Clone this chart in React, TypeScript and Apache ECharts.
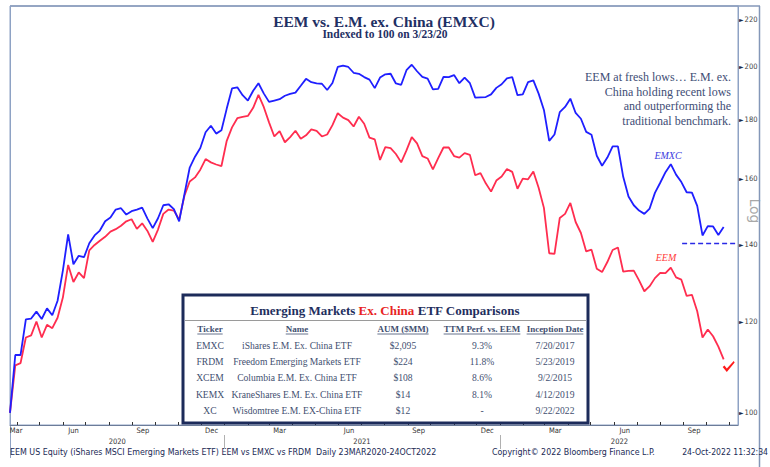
import React, { useEffect, useRef } from "react";
import * as echarts from "echarts";

// ---- data (weekly samples, indexed to 100 on 3/23/20) ----
const startDate = "2020-03-23";
const endAxisDate = "2022-11-12";
const emxcValues = [
  100, 112.3, 112.3, 120.6, 120.8, 122.5, 120.7, 123.3, 121.6, 125.2,
  133.0, 143.0, 134.7, 137.0, 136.6, 140.5, 142.7, 144.1, 146.8, 147.9,
  150.3, 150.7, 148.8, 149.8, 150.3, 150.9, 147.6, 144.8, 147.7, 151.6,
  151.9, 150.4, 146.8, 155.0, 163.5, 167.1, 170.0, 175.5, 177.8, 175.0,
  176.2, 184.0, 191.6, 192.0, 189.0, 187.0, 190.7, 193.6, 189.7, 186.5,
  187.0, 187.5, 188.8, 189.5, 190.0, 192.6, 195.3, 194.0, 193.5, 193.4,
  191.0, 193.7, 200.0, 200.5, 200.0, 197.7, 197.3, 196.0, 195.0, 191.7,
  195.8, 197.1, 197.3, 193.5, 193.0, 198.7, 200.9, 198.3, 196.1, 195.4,
  191.2, 191.4, 196.1, 196.0, 196.8, 193.6, 195.8, 193.6, 188.1, 188.2,
  188.3, 189.3, 191.8, 193.2, 195.5, 196.0, 189.0, 189.3, 194.0, 194.7,
  189.6, 183.5, 172.5, 174.7, 182.7, 184.6, 187.7, 182.4, 180.3, 175.6,
  174.6, 167.4, 164.1, 166.8, 170.6, 170.6, 160.5, 154.3, 151.6, 150.0,
  149.0, 150.6, 155.4, 158.6, 162.0, 164.6, 161.2, 158.8, 155.6, 155.5,
  151.4, 142.7, 145.4, 145.3, 142.8, 145.1,
];
const eemValues = [
  100, 110.0, 110.5, 116.3, 116.8, 120.1, 116.3, 119.3, 118.5, 121.0,
  126.0, 134.5, 130.0, 132.5, 131.0, 138.5, 140.0, 141.2, 142.3, 143.8,
  144.5, 145.5, 146.8, 147.4, 144.6, 146.2, 144.0, 140.9, 144.4, 149.0,
  150.3, 150.0, 147.3, 154.5, 159.0, 160.3, 162.8, 166.3, 165.2, 164.5,
  164.0, 172.5, 177.2, 180.5, 181.0, 181.3, 184.3, 189.1, 184.6, 179.0,
  174.0, 175.9, 172.0, 173.8, 176.0, 173.2, 174.4, 176.5, 176.0, 174.0,
  174.7, 178.0, 182.3, 180.7, 179.8, 177.5, 181.0, 178.5, 173.6, 173.0,
  166.0, 170.3, 170.0, 168.0, 165.2, 169.2, 173.8, 171.6, 167.3, 166.5,
  162.9, 166.6, 170.2, 170.2, 167.3, 166.8, 168.3, 167.7, 161.0, 161.7,
  158.4, 155.8, 159.3, 160.6, 163.0, 162.1, 156.7, 159.9, 159.7, 162.2,
  157.0, 150.8, 137.7, 137.5, 147.8, 149.0, 152.3, 146.6, 143.4, 138.2,
  138.7, 133.5, 132.6, 135.3, 138.6, 139.3, 132.7, 132.9, 133.0, 130.4,
  127.6, 128.9, 131.0, 132.4, 132.3, 133.8, 131.2, 130.6, 126.4, 126.7,
  122.6, 116.3, 118.2, 116.6, 114.2, 111.3,
];
const yTickValues = [100, 120, 140, 160, 180, 200, 220];
const monthLabelDates = [
  "2020-03-31", "2020-06-15", "2020-09-15", "2020-12-15",
  "2021-03-15", "2021-06-15", "2021-09-15", "2021-12-15",
  "2022-03-15", "2022-06-15", "2022-09-15",
];
const yearLabelDates = ["2020-08-12", "2021-07-02", "2022-06-08"];
const yearBreakDates = ["2021-01-01", "2022-01-01"];
const supportLevel = 140.6;
const supportStart = "2022-08-30";

// table
const tableTickers = ["EMXC", "FRDM", "XCEM", "KEMX", "XC"];
const tableNames = [
  "iShares E.M. Ex. China ETF",
  "Freedom Emerging Markets ETF",
  "Columbia E.M. Ex. China ETF",
  "KraneShares E.M. Ex. China ETF",
  "Wisdomtree E.M. EX-China ETF",
];
const tableAum = ["$2,095", "$224", "$108", "$14", "$12"];
const tableTtm = ["9.3%", "11.8%", "8.6%", "8.1%", "-"];
const tableInception = ["7/20/2017", "5/23/2019", "9/2/2015", "4/12/2019", "9/22/2022"];
const tableHeaders = ["Ticker", "Name", "AUM ($MM)", "TTM Perf. vs. EEM", "Inception Date"];

const MONTHS = ["Jan", "Feb", "Mar", "Apr", "May", "Jun", "Jul", "Aug", "Sep", "Oct", "Nov", "Dec"];

function toTime(s: string) {
  const [y, m, d] = s.split("-").map(Number);
  return new Date(y, m - 1, d).getTime();
}

function measure(text: string, font: string) {
  const c = document.createElement("canvas").getContext("2d");
  if (!c) return text.length * 5;
  c.font = font;
  return c.measureText(text).width;
}

const SERIF = "'Liberation Serif', 'Times New Roman', serif";
const COND = "'DejaVu Sans Condensed', 'DejaVu Sans', sans-serif";

export default function App() {
  const ref = useRef<HTMLDivElement>(null);

  useEffect(() => {
    if (!ref.current) return;
    const chart = echarts.init(ref.current, undefined, { renderer: "svg" });

    const [sy, sm, sd] = startDate.split("-").map(Number);
    const weekTime = (i: number) => new Date(sy, sm - 1, sd + 7 * i).getTime();
    const xMin = toTime(startDate);
    const xMax = toTime(endAxisDate);
    const emxcData = emxcValues.map((v, i) => [weekTime(i), v]);
    const eemData = eemValues.map((v, i) => [weekTime(i), v]);
    const lastEem = eemData[eemData.length - 1];

    const monthTicks: number[] = [];
    for (let k = 0; k < 40; k++) {
      const t = new Date(2020, 3 + k, 1).getTime();
      if (t > xMax) break;
      monthTicks.push(t);
    }

    // table graphics
    const colX = [210, 297, 403, 482, 555];
    const headerY = 329;
    const rowY0 = 345;
    const rowStep = 16.4;
    const tableColor = "#3f4f70";
    const headerFont = `bold 9px ${SERIF}`;
    const graphics: any[] = [];

    graphics.push({
      type: "rect",
      shape: { x: 183, y: 295, width: 405, height: 128 },
      style: { fill: "#ffffff", stroke: "#1c2b5a", lineWidth: 3 },
      z: 10,
    });
    graphics.push({
      type: "line",
      shape: { x1: 185, y1: 320.5, x2: 586, y2: 320.5 },
      style: { stroke: "#9a9a9a", lineWidth: 1 },
      z: 11,
    });
    graphics.push({
      type: "text",
      x: 385,
      y: 310,
      z: 11,
      style: {
        text: "{a|Emerging Markets }{b|Ex. China}{a| ETF Comparisons}",
        align: "center",
        verticalAlign: "middle",
        rich: {
          a: { fontFamily: SERIF, fontWeight: "bold", fontSize: 13, fill: "#1f2f5e" },
          b: { fontFamily: SERIF, fontWeight: "bold", fontSize: 13, fill: "#e8251f" },
        },
      },
    });
    tableHeaders.forEach((h, c) => {
      const w = measure(h, headerFont);
      graphics.push({
        type: "text",
        x: colX[c],
        y: headerY,
        z: 11,
        style: {
          text: h,
          align: "center",
          verticalAlign: "middle",
          fontFamily: SERIF,
          fontWeight: "bold",
          fontSize: 9,
          fill: tableColor,
        },
      });
      graphics.push({
        type: "line",
        shape: { x1: colX[c] - w / 2, y1: headerY + 5, x2: colX[c] + w / 2, y2: headerY + 5 },
        style: { stroke: tableColor, lineWidth: 0.8 },
        z: 11,
      });
    });
    const cols = [tableTickers, tableNames, tableAum, tableTtm, tableInception];
    cols.forEach((col, c) => {
      col.forEach((txt, r) => {
        graphics.push({
          type: "text",
          x: colX[c],
          y: rowY0 + r * rowStep,
          z: 11,
          style: {
            text: txt,
            align: "center",
            verticalAlign: "middle",
            fontFamily: SERIF,
            fontSize: 9.6,
            fill: tableColor,
          },
        });
      });
    });

    // titles, annotation, frame
    graphics.push(
      {
        type: "text",
        x: 384,
        y: 21,
        style: {
          text: "EEM vs. E.M. ex. China (EMXC)",
          align: "center",
          verticalAlign: "middle",
          fontFamily: SERIF,
          fontWeight: "bold",
          fontSize: 15.5,
          fill: "#1f3064",
        },
      },
      {
        type: "text",
        x: 385,
        y: 34,
        style: {
          text: "Indexed to 100 on 3/23/20",
          align: "center",
          verticalAlign: "middle",
          fontFamily: SERIF,
          fontWeight: "bold",
          fontSize: 11.5,
          fill: "#1f3064",
        },
      },
      {
        type: "text",
        x: 731,
        y: 70,
        style: {
          text:
            "EEM at fresh lows\u2026 E.M. ex.\nChina holding recent lows\nand outperforming the\ntraditional benchmark.",
          align: "right",
          verticalAlign: "top",
          lineHeight: 14.5,
          fontFamily: SERIF,
          fontSize: 12,
          fill: "#3e4d75",
        },
      },
      {
        type: "text",
        x: 668,
        y: 155,
        style: {
          text: "EMXC",
          align: "center",
          verticalAlign: "middle",
          fontFamily: SERIF,
          fontStyle: "italic",
          fontSize: 10,
          fill: "#3a3ae0",
        },
      },
      {
        type: "text",
        x: 666,
        y: 257,
        style: {
          text: "EEM",
          align: "center",
          verticalAlign: "middle",
          fontFamily: SERIF,
          fontStyle: "italic",
          fontSize: 10,
          fill: "#ff3a3a",
        },
      },
      {
        type: "text",
        x: 755,
        y: 211,
        rotation: -Math.PI / 2,
        style: {
          text: "Log",
          align: "center",
          verticalAlign: "middle",
          fontFamily: "'DejaVu Sans', sans-serif",
          fontSize: 14,
          fill: "#a8a8a8",
        },
      },
      {
        type: "line",
        shape: { x1: 10, y1: 6, x2: 760, y2: 6 },
        style: { stroke: "#8497b8", lineWidth: 1.5 },
      },
      {
        type: "line",
        shape: { x1: 10.5, y1: 6, x2: 10.5, y2: 458 },
        style: { stroke: "#8ea2c4", lineWidth: 1 },
      },
      {
        type: "line",
        shape: { x1: 759.5, y1: 6, x2: 759.5, y2: 467 },
        style: { stroke: "#8497b8", lineWidth: 1.5 },
      },
      {
        type: "text",
        x: 10,
        y: 452,
        style: {
          text: "EEM US Equity (iShares MSCI Emerging Markets ETF) EEM vs EMXC vs FRDM  Daily 23MAR2020-24OCT2022",
          align: "left",
          verticalAlign: "middle",
          fontFamily: COND,
          fontSize: 8.8,
          fill: "#1a2a55",
        },
      },
      {
        type: "text",
        x: 492,
        y: 452,
        style: {
          text: "Copyright\u00a9 2022 Bloomberg Finance L.P.",
          align: "left",
          verticalAlign: "middle",
          fontFamily: COND,
          fontSize: 8.8,
          fill: "#1a2a55",
        },
      },
      {
        type: "text",
        x: 768,
        y: 452,
        style: {
          text: "24-Oct-2022 11:32:34",
          align: "right",
          verticalAlign: "middle",
          fontFamily: COND,
          fontSize: 8.6,
          fill: "#1a2a55",
        },
      }
    );

    const option: any = {
      animation: false,
      backgroundColor: "#ffffff",
      grid: {
        left: 10,
        right: 32,
        top: 6,
        bottom: 42,
        show: true,
        borderColor: "#8ea2c4",
        borderWidth: 1,
        containLabel: false,
      },
      xAxis: [
        {
          type: "value",
          min: xMin,
          max: xMax,
          position: "bottom",
          axisLine: { show: true, lineStyle: { color: "#6c7c99", width: 1 } },
          axisTick: {
            show: true,
            customValues: monthTicks,
            inside: true,
            length: 3,
            lineStyle: { color: "#333" },
          },
          splitLine: { show: false },
          axisLabel: {
            customValues: monthLabelDates.map(toTime),
            formatter: (v: number) => MONTHS[new Date(v).getMonth()],
            fontFamily: COND,
            fontSize: 7.5,
            color: "#333",
            margin: 1,
            hideOverlap: false,
          },
        },
        {
          type: "value",
          min: xMin,
          max: xMax,
          position: "bottom",
          offset: 10,
          axisLine: { show: false },
          axisTick: {
            show: true,
            customValues: yearBreakDates.map(toTime),
            length: 14,
            lineStyle: { color: "#b0b0b0" },
          },
          splitLine: { show: false },
          axisLabel: {
            customValues: yearLabelDates.map(toTime),
            formatter: (v: number) => String(new Date(v).getFullYear()),
            fontFamily: COND,
            fontSize: 7.5,
            color: "#333",
            margin: 2,
            hideOverlap: false,
          },
        },
      ],
      yAxis: {
        type: "log",
        logBase: 10,
        min: 97.6,
        max: 226,
        position: "right",
        axisLine: { show: true, lineStyle: { color: "#8ea2c4" } },
        axisTick: { show: false },
        axisLabel: { show: false },
        splitLine: { show: false },
      },
      series: [
        {
          name: "EMXC",
          type: "line",
          data: emxcData,
          showSymbol: false,
          symbol: "none",
          lineStyle: { color: "#1f1fff", width: 1.8 },
          z: 3,
          markLine: {
            silent: true,
            symbol: ["none", "none"],
            label: { show: false },
            lineStyle: { color: "#2a2ae6", width: 1.3, type: [5, 3] },
            data: [
              [
                { coord: [toTime(supportStart), supportLevel] },
                { coord: [xMax, supportLevel] },
              ],
            ],
          },
        },
        {
          name: "EEM",
          type: "line",
          data: eemData,
          showSymbol: false,
          symbol: "none",
          lineStyle: { color: "#ff2d4f", width: 1.8 },
          z: 2,
          markPoint: {
            silent: true,
            symbol: "path://M0,6 L2,4.5 L4.5,7.5 L12,0 L13,1.5 L4.5,11 Z",
            symbolSize: [12, 11],
            symbolOffset: [5, 7],
            itemStyle: { color: "#ff1a1a" },
            label: { show: false },
            data: [{ coord: lastEem }],
          },
          markLine: {
            silent: true,
            symbol: ["none", "none"],
            lineStyle: { color: "rgba(0,0,0,0)", width: 0 },
            label: {
              show: true,
              position: "end",
              distance: 1,
              formatter: (p: any) => `{t|\u25BA}{v|${p.value}}`,
              rich: {
                t: { fontSize: 6, color: "#1b2a4a", fontFamily: "'DejaVu Sans', sans-serif" },
                v: { fontSize: 7.5, color: "#444", fontFamily: COND, padding: [0, 0, 0, 1] },
              },
            },
            data: yTickValues.map((v) => ({ yAxis: v })),
          },
        },
      ],
      graphic: graphics,
    };

    chart.setOption(option);
    return () => chart.dispose();
  }, []);

  return (
    <div
      ref={ref}
      style={{ position: "fixed", left: 0, top: 0, width: 770, height: 467, background: "#fff" }}
    />
  );
}
